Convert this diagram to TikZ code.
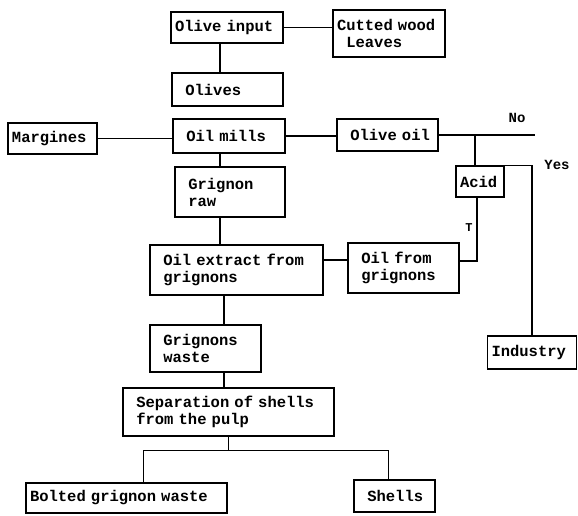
\documentclass[tikz,border=0pt]{standalone}
\usepackage{fontspec}
\setmonofont{Liberation Mono}
\usetikzlibrary{positioning}
\newcommand{\indt}{\hspace*{0.6em}}

\begin{document}
\begin{tikzpicture}[
            x=1pt, y=-1pt,
            line width=1.4pt,
            box/.style={draw, line width=1.5pt, inner xsep=4pt, inner ysep=0pt, align=left, font=\ttfamily\bfseries\fontsize{15.5}{17}\selectfont},
            lbl/.style={inner sep=0pt, font=\ttfamily\bfseries\fontsize{14}{16}\selectfont}
        ]
        \useasboundingbox (0,0) rectangle (578,515);

        % Nodes
        \node[box, text width=104pt, minimum height=31pt] (input) at (227,27.5) {Olive input};
        \node[box, text width=104pt, minimum height=47pt] (wood) at (389,33.5) {Cutted wood\\\indt Leaves};
        \node[box, text width=103pt, minimum height=33pt] (olives) at (227.5,89.5) {\indt Olives};
        \node[box, text width=81pt, minimum height=31pt] (margines) at (52.5,138.5) {Margines};
        \node[box, text width=104pt, minimum height=34pt] (mills) at (229,136) {\indt Oil mills};
        \node[box, text width=93pt, minimum height=32pt] (oliveoil) at (387.5,135) {\indt Olive oil};
        \node[box, text width=40pt, minimum height=31pt] (acid) at (480,181.5) {Acid};
        \node[box, text width=102pt, minimum height=50pt] (raw) at (230,192) {\indt Grignon\\\indt raw};
        \node[box, text width=165pt, minimum height=50pt] (extract) at (236.5,270) {\indt Oil extract from\\\indt grignons};
        \node[box, text width=103pt, minimum height=50pt] (fromgr) at (403.5,268) {\indt Oil from\\\indt grignons};
        \node[box, text width=103pt, minimum height=47pt] (waste) at (205.5,348.5) {\indt Grignons\\\indt waste};
        \node[box, text width=81pt, minimum height=33pt] (industry) at (532,352.5) {Industry};
        \node[box, text width=203pt, minimum height=48pt] (sep) at (228.5,412) {\indt Separation of shells\\\indt from the pulp};
        \node[box, text width=193pt, minimum height=30pt] (bolted) at (126.5,498) {Bolted grignon waste};
        \node[box, text width=73pt, minimum height=32pt] (shells) at (394.5,496) {\indt Shells};

        % Labels
        \node[lbl] (no) at (517,118) {No};
        \node[lbl] (yes) at (557,165) {Yes};
        \node[lbl, font=\ttfamily\bfseries\fontsize{12}{14}\selectfont] (t) at (469,228) {T};

        % Main column
        \coordinate (spine) at (220,0);
        \coordinate (spinelow) at (224,0);
        \draw (input.south -| spine) -- (olives.north -| spine);
        \draw (mills.south -| spine) -- (raw.north -| spine);
        \draw (raw.south -| spine) -- (extract.north -| spine);
        \draw (extract.south -| spinelow) -- (waste.north -| spinelow);
        \draw (waste.south -| spinelow) -- (sep.north -| spinelow);

        % Side branches
        \draw (input.east) -- (input.east -| wood.west);
        \draw (margines.east) -- (margines.east -| mills.west);
        \draw (mills.east) -- (mills.east -| oliveoil.west);
        \draw ([yshift=10pt]extract.east) -- ([yshift=10pt]extract.east -| fromgr.west);

        % Olive oil: No / Yes
        \coordinate (noend) at (535,135);
        \coordinate (branch) at (475,135);
        \draw (oliveoil.east) -- (oliveoil.east -| noend);
        \draw (branch) -- (branch |- acid.north);
        \draw (acid.north east) -| (industry.north);
        \draw ([xshift=-3pt]acid.south) |- ([yshift=7pt]fromgr.east);

        % Split into waste and shells
        \draw (sep.south) -- ++(0,14) coordinate (fork);
        \draw ([xshift=17pt]bolted.north) |- (fork) -| ([xshift=-6pt]shells.north);
        \end{tikzpicture}
\end{document}
